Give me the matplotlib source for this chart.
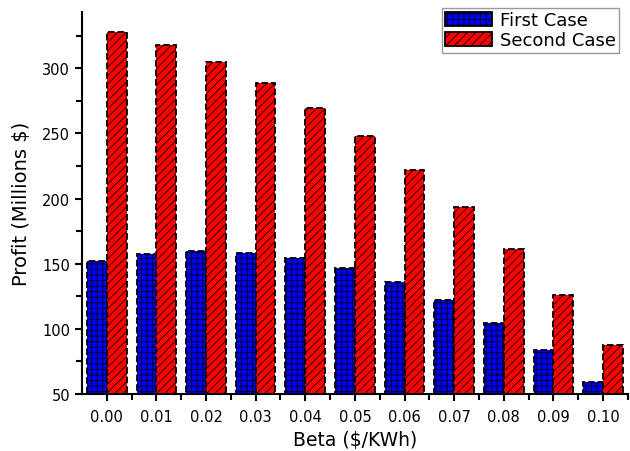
import numpy as np
import matplotlib.pyplot as plt
from matplotlib.ticker import MultipleLocator

plt.rcParams['hatch.linewidth'] = 0.6

beta = ['0.00', '0.01', '0.02', '0.03', '0.04', '0.05', '0.06', '0.07', '0.08', '0.09', '0.10']
first_case = [152, 157.4, 159.7, 158.1, 154.3, 146.6, 135.9, 121.8, 104.4, 83.6, 59]
second_case = [327.6, 317.6, 304.6, 288.5, 269.3, 247.9, 221.8, 193.4, 161.2, 125.9, 87.6]

fig = plt.figure(figsize=(6.3, 4.52), dpi=100)
ax = fig.add_axes([0.130, 0.126, 0.8667, 0.845])

x = np.arange(len(beta))
w = 0.4
ax.bar(x - w/2, first_case, w, color='#0000ff', edgecolor='black',
       hatch='+++', linestyle='--', linewidth=1.3, label='First Case')
ax.bar(x + w/2, second_case, w, color='#ff0000', edgecolor='black',
       hatch='////', linestyle='--', linewidth=1.3, label='Second Case')

ax.set_xlim(-0.5, 10.42)
ax.set_ylim(50, 343)
ax.set_xticks(x)
ax.set_xticklabels(beta)
ax.set_xticks(x + 0.5, minor=True)
ax.yaxis.set_major_locator(MultipleLocator(50))
ax.yaxis.set_minor_locator(MultipleLocator(25))

ax.spines['top'].set_visible(False)
ax.spines['right'].set_visible(False)
ax.spines['left'].set_linewidth(1.5)
ax.spines['bottom'].set_linewidth(1.5)
ax.tick_params(axis='both', which='major', direction='out', length=5, width=1.5, labelsize=10.5)
ax.tick_params(axis='x', which='major', pad=6)
ax.tick_params(axis='both', which='minor', direction='out', length=4, width=1.5)

ax.set_xlabel('Beta ($/KWh)', fontsize=13.5, labelpad=4)
ax.set_ylabel('Profit (Millions $)', fontsize=14, labelpad=8)

leg = ax.legend(loc='upper right', bbox_to_anchor=(0.984, 1.012), fontsize=13, frameon=True, fancybox=False,
                edgecolor='gray', handlelength=2.6, handleheight=0.85, borderpad=0.2, labelspacing=0.12,
                handletextpad=0.4, borderaxespad=0.0)
leg.get_frame().set_linewidth(1.0)
for h in leg.get_patches():
    h.set_linestyle('-')

plt.savefig('out.png', dpi=100)
